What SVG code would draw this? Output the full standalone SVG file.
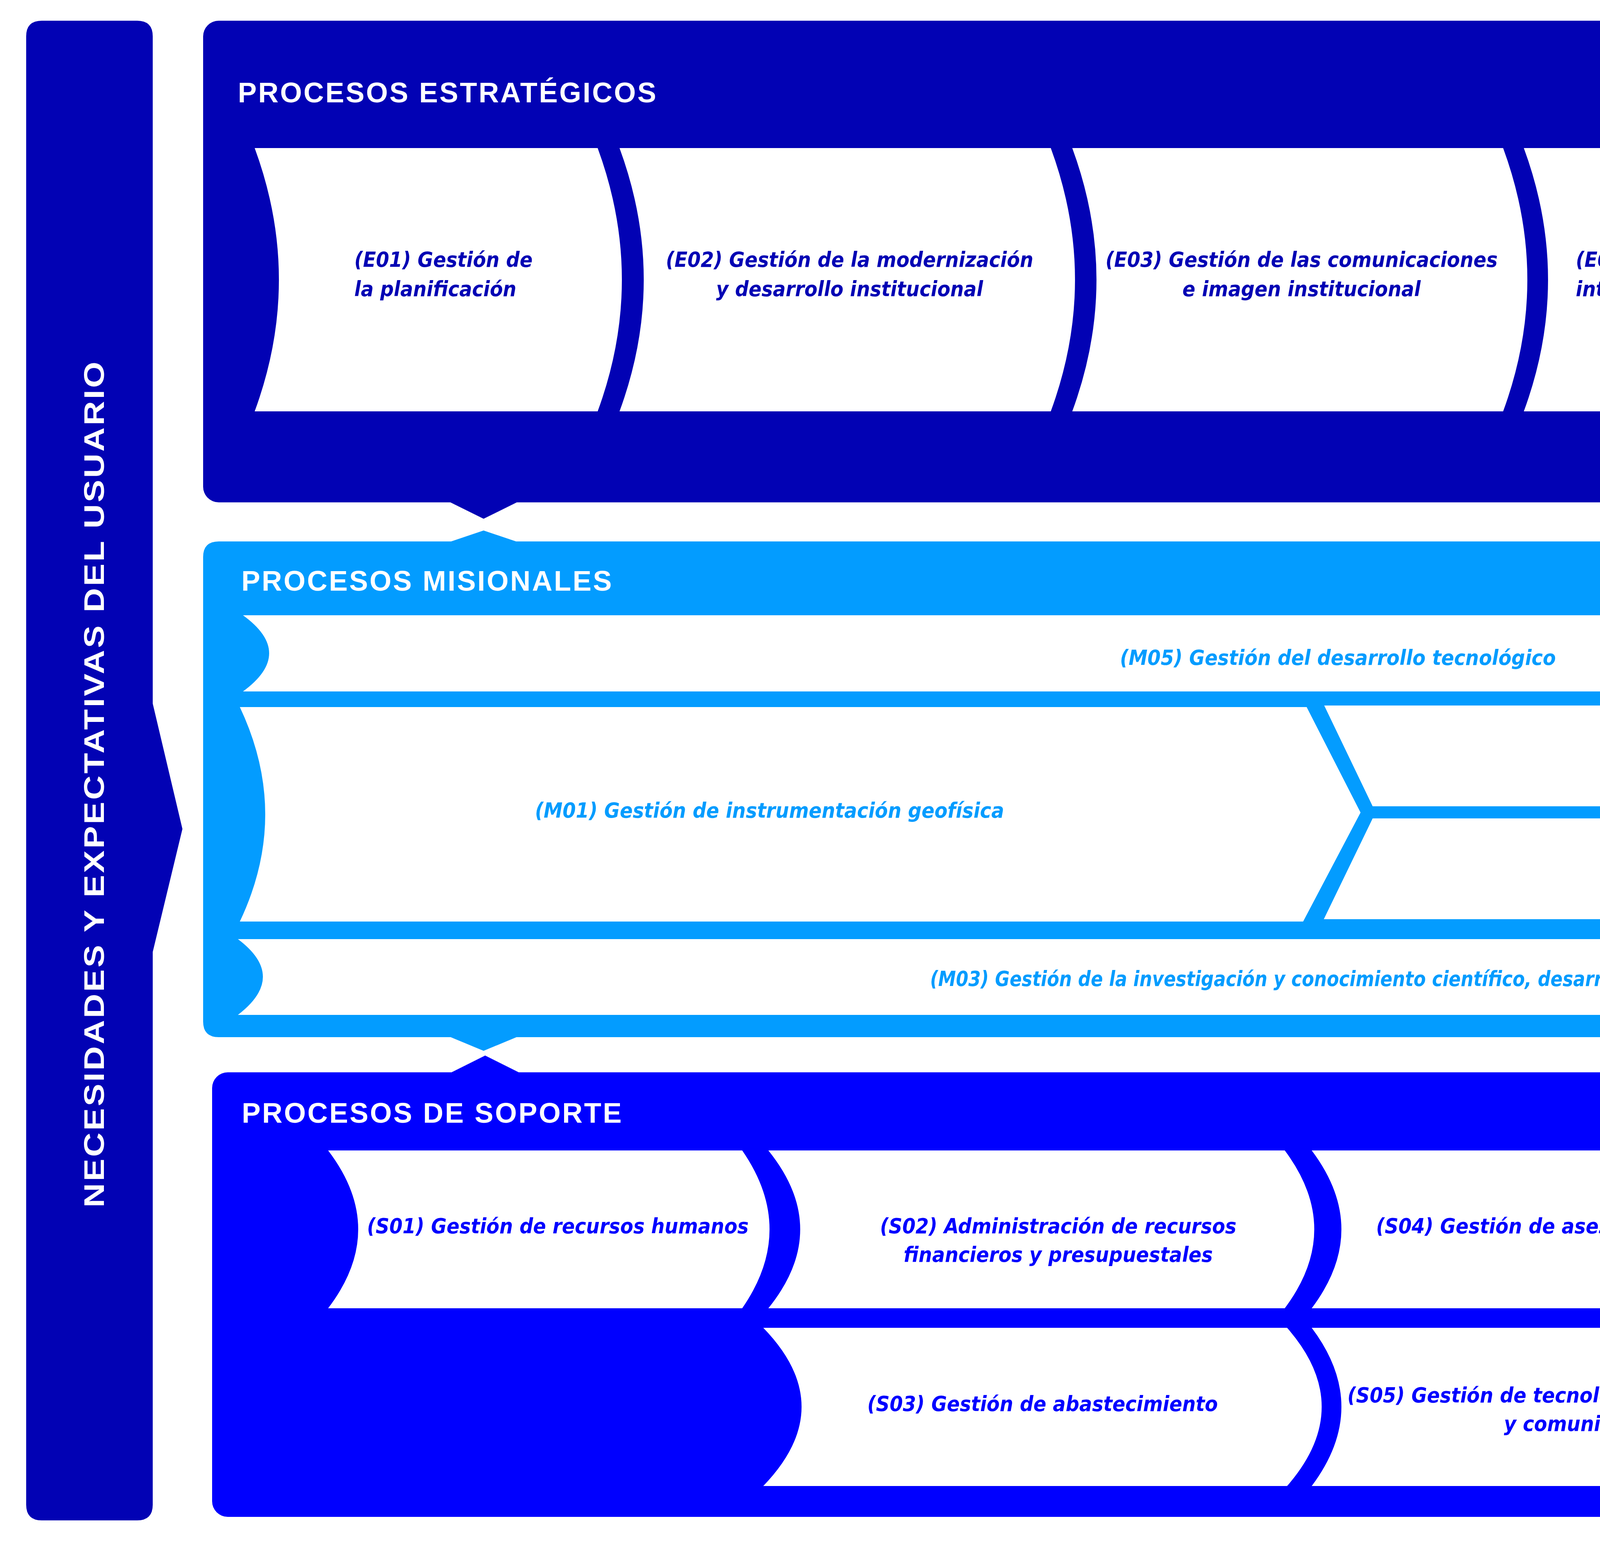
<svg xmlns="http://www.w3.org/2000/svg" width="6975" height="3955" viewBox="0 0 6975 3955">
<style>
.t{font-family:"Liberation Sans Narrow","DejaVu Sans Condensed","Liberation Sans",sans-serif;font-weight:bold;font-style:italic;font-size:54px}
.e{fill:#0202B4}.m{fill:#039CFF}.s{fill:#0000FF}
.ttl{font-family:"Liberation Sans",sans-serif;font-weight:bold;font-size:72px;fill:#fff;letter-spacing:4px}
.w{fill:#fff}
</style>
<rect width="6975" height="3955" fill="#fff"/>
<g id="bar-left">
<path class="e" d="M107,53 H351 Q391,53 391,93 V1801 L467,2122 L391,2437 V3852 Q391,3892 351,3892 H107 Q67,3892 67,3852 V93 Q67,53 107,53 Z"/>
<text class="ttl" font-size="96" textLength="2170" lengthAdjust="spacingAndGlyphs" text-anchor="middle" transform="translate(266,2006) rotate(-90)">NECESIDADES Y EXPECTATIVAS DEL USUARIO</text>
</g>
<g id="bar-right">
<rect class="e" x="6597" y="53" width="320" height="3830" rx="40"/>
<text class="ttl" font-size="96" textLength="1197" lengthAdjust="spacingAndGlyphs" text-anchor="middle" transform="translate(6774,2030) rotate(-90)">USUARIOS SATISFECHOS</text>
</g>
<g id="connectors">
<path class="e" d="M1149,1284 H1327 L1238,1328 Z"/>
<path class="e" d="M5347,1284 H5525 L5436,1328 Z"/>
<path class="m" d="M1149,1388 H1327 L1238,1358 Z"/>
<path class="m" d="M5347,1388 H5525 L5436,1358 Z"/>
<path class="m" d="M1149,2653 H1327 L1238,2690 Z"/>
<path class="m" d="M5347,2653 H5525 L5436,2690 Z"/>
<path class="s" d="M1154,2746 H1330 L1242,2702 Z"/>
<path class="s" d="M5350,2746 H5526 L5438,2702 Z"/>
</g>
<g id="estrategicos">
<rect class="e" x="520" y="53" width="5912" height="1233" rx="40"/>
<text class="ttl" x="609" y="262">PROCESOS ESTRATÉGICOS</text>
</g>
<g id="E01"><path class="w" d="M652,379 Q776,716 652,1053 H1530 Q1654,716 1530,379 Z"/>
<text class="t e" x="907" y="683">(E01) Gestión de<tspan x="907" y="758">la planificación</tspan></text></g>
<g id="E02"><path class="w" d="M1586,379 Q1710,716 1586,1053 H2690 Q2814,716 2690,379 Z"/>
<text class="t e" text-anchor="middle" x="2175" y="683">(E02) Gestión de la modernización<tspan x="2175" y="758">y desarrollo institucional</tspan></text></g>
<g id="E03"><path class="w" d="M2745,379 Q2869,716 2745,1053 H3848 Q3972,716 3848,379 Z"/>
<text class="t e" text-anchor="middle" x="3332" y="683">(E03) Gestión de las comunicaciones<tspan x="3332" y="758">e imagen institucional</tspan></text></g>
<g id="E04"><path class="w" d="M3901,379 Q4025,716 3901,1053 H5049 Q5173,716 5049,379 Z"/>
<text class="t e" x="4034" y="683">(E04) Gestión de las relaciones<tspan x="4034" y="758">interinstitucionales y de cooperación</tspan></text></g>
<g id="E05"><path class="w" d="M5094,379 Q5218,716 5094,1053 H6130 Q6250,716 6130,379 Z"/>
<text class="t e" x="5427" y="683">(E05) Gestión de<tspan x="5427" y="758">control interno</tspan></text></g>
<g id="misionales">
<path class="m" d="M560,1386 H6396 Q6436,1386 6436,1426 V1913 L6547,2135 L6436,2357 V2615 Q6436,2655 6396,2655 H560 Q520,2655 520,2615 V1426 Q520,1386 560,1386 Z"/>
<text class="ttl" x="618" y="1512">PROCESOS MISIONALES</text>
</g>
<g id="M05"><path class="w" d="M622,1575 Q756,1672 622,1770 H6129 L6285,1575 Z"/>
<text class="t m" text-anchor="middle" x="3425" y="1702">(M05) Gestión del desarrollo tecnológico</text></g>
<g id="M01"><path class="w" d="M614,1810 Q744,2085 614,2359 H3336 L3483,2080 L3345,1810 Z"/>
<text class="t m" text-anchor="middle" x="1970" y="2093">(M01) Gestión de instrumentación geofísica</text></g>
<g id="M02"><path class="w" d="M3390,1806 L3514,2064 H6281 L6085,1806 Z"/>
<text class="t m" text-anchor="middle" x="4790" y="1962">(M02) Gestión de la investigación científica</text></g>
<g id="M04"><path class="w" d="M3514,2095 L3389,2353 H6129 L6281,2095 Z"/>
<text class="t m" text-anchor="middle" x="4977" y="2207">(M04) Gestión de servicios de información,  evaluación y<tspan x="4977" y="2280">monitoreo de peligros naturales</tspan></text></g>
<g id="M03"><path class="w" d="M609,2404 Q737,2500 609,2598 H6116 L6272,2404 Z"/>
<text class="t m" text-anchor="middle" x="3616" y="2524" textLength="2470" lengthAdjust="spacingAndGlyphs">(M03) Gestión de la investigación y conocimiento científico, desarrollo tecnológico e innovación</text></g>
<g id="soporte">
<rect class="s" x="543" y="2745" width="5915" height="1138" rx="40"/>
<text class="ttl" x="619" y="2874">PROCESOS DE SOPORTE</text>
</g>
<g id="S01"><path class="w" d="M840,2945 Q994,3147 840,3349 H1900 Q2040,3147 1900,2945 Z"/>
<text class="t s" text-anchor="middle" x="1428" y="3157">(S01) Gestión de recursos humanos</text></g>
<g id="S02"><path class="w" d="M1967,2945 Q2130,3147 1967,3349 H3289 Q3440,3147 3289,2945 Z"/>
<text class="t s" text-anchor="middle" x="2709" y="3157">(S02) Administración de recursos<tspan x="2709" y="3230">financieros y presupuestales</tspan></text></g>
<g id="S04"><path class="w" d="M3358,2945 Q3510,3147 3358,3349 H4706 Q4856,3147 4706,2945 Z"/>
<text class="t s" text-anchor="middle" x="4074" y="3157">(S04) Gestión de asesoramiento jurídico</text></g>
<g id="S06"><path class="w" d="M4750,2945 Q4900,3147 4750,3349 H6094 Q6226,3147 6094,2945 Z"/>
<text class="t s" text-anchor="middle" x="5431" y="3157">(S06) Gestión documental</text></g>
<g id="S03"><path class="w" d="M1954,3399 Q2150,3601 1954,3804 H3295 Q3472,3601 3295,3399 Z"/>
<text class="t s" text-anchor="middle" x="2669" y="3612">(S03) Gestión de abastecimiento</text></g>
<g id="S05"><path class="w" d="M3358,3399 Q3510,3601 3358,3804 H4706 Q4856,3601 4706,3399 Z"/>
<text class="t s" text-anchor="middle" x="4092" y="3590">(S05) Gestión de tecnologías de la información<tspan x="4092" y="3663">y comunicaciones</tspan></text></g>
<g id="S07"><path class="w" d="M4750,3399 Q4900,3601 4750,3804 H6094 Q6226,3601 6094,3399 Z"/>
<text class="t s" text-anchor="middle" x="5444" y="3597">(S07) Gestión de las inversiones</text></g>
</svg>
